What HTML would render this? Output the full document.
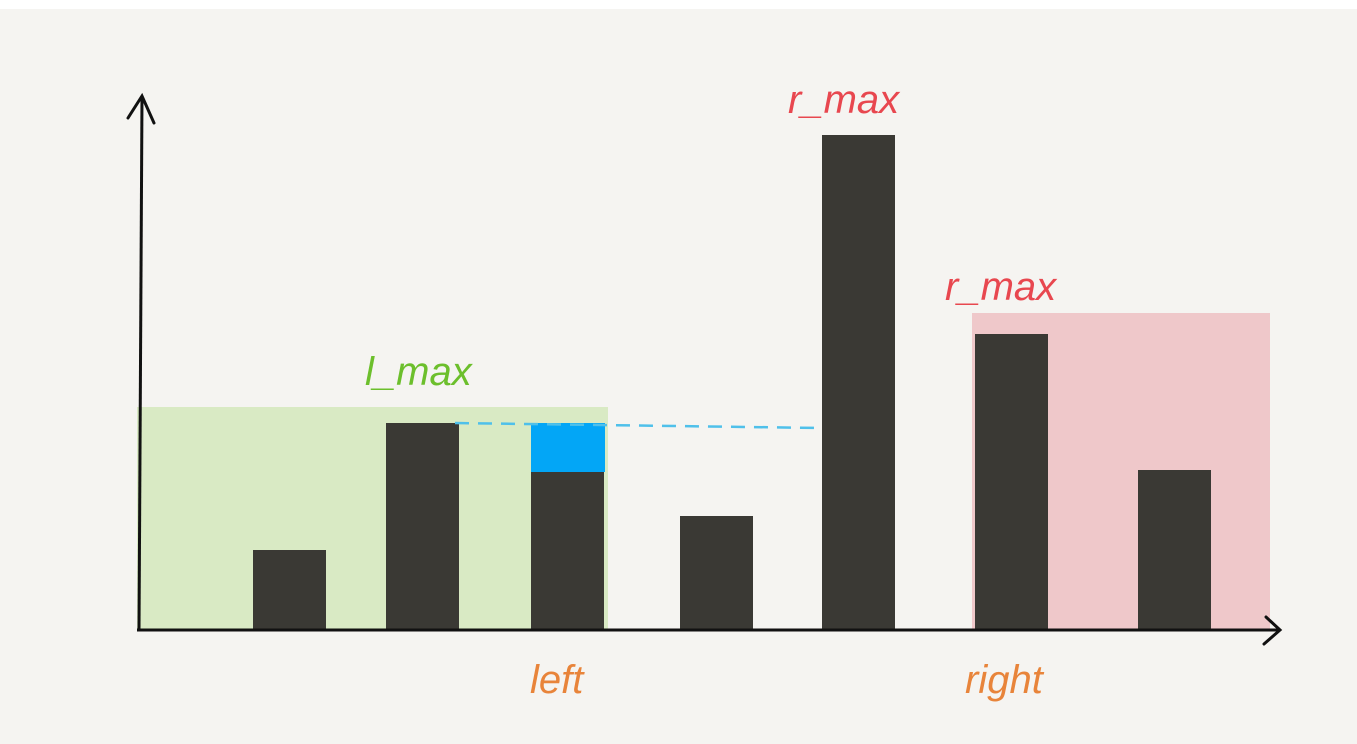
<!DOCTYPE html>
<html><head><meta charset="utf-8"><style>
html,body{margin:0;padding:0;background:#f5f4f1;}
svg{display:block;}
text{font-family:"Liberation Sans",sans-serif;font-style:italic;}
</style></head><body>
<svg id="chart" width="1357" height="744" viewBox="0 0 1357 744" xmlns="http://www.w3.org/2000/svg">
<rect x="0" y="0" width="1357" height="744" fill="#f5f4f1"/>
<rect x="0" y="0" width="1357" height="9" fill="#ffffff"/>
<rect x="137" y="407" width="471" height="223" fill="#d9eac4"/>
<rect x="972" y="313" width="298" height="317" fill="#efc8ca"/>
<g id="bars"></g>
<line x1="455" y1="423" x2="822" y2="428" stroke="#4fc0ea" stroke-width="2.5" stroke-dasharray="14,9"/>
<line x1="137" y1="630" x2="1278" y2="630" stroke="#111" stroke-width="3"/>
<polyline points="1266,617 1280,630 1264,644" fill="none" stroke="#111" stroke-width="3" stroke-linecap="round"/>
<line x1="142" y1="97" x2="139" y2="630" stroke="#111" stroke-width="3"/>
<polyline points="128,118 142,96 154,123" fill="none" stroke="#111" stroke-width="3" stroke-linecap="round"/>
<text x="365" y="385" font-size="40" fill="#6cbf2c">l_max</text>
<text x="530" y="693" font-size="40" fill="#e8843a">left</text>
<text x="788" y="113" font-size="40" fill="#e8474f">r_max</text>
<text x="945" y="300" font-size="40" fill="#e8474f">r_max</text>
<text x="965" y="693" font-size="40" fill="#e8843a">right</text>
</svg>
<script>
const categories = ["b1","b2","b3","b4","b5","b6","b7"];
const heights = [80, 207, 158, 114, 495, 296, 160];
const waterLevel = 207;
const waterIndex = 2;
const barLeft = [253, 386, 531, 680, 822, 975, 1138];
const barW = 73;
const y0 = 630, yTop = 130, vMax = 500;
function y(v){ return y0 - (v / vMax) * (y0 - yTop); }
const g = document.getElementById('bars');
const NS = 'http://www.w3.org/2000/svg';
categories.forEach((c, i) => {
  const r = document.createElementNS(NS, 'rect');
  
  
  r.setAttribute('x', barLeft[i]);
  r.setAttribute('y', y(heights[i]));
  r.setAttribute('width', barW);
  r.setAttribute('height', y0 - y(heights[i]));
  r.setAttribute('fill', '#3a3934');
  g.appendChild(r);
  if (i === waterIndex) {
    const w = document.createElementNS(NS, 'rect');
    
    
    w.setAttribute('x', barLeft[i]);
    w.setAttribute('y', y(waterLevel));
    w.setAttribute('width', barW + 1);
    w.setAttribute('height', y(heights[i]) - y(waterLevel));
    w.setAttribute('fill', '#03a6f6');
    g.appendChild(w);
  }
});
</script>
</body></html>
